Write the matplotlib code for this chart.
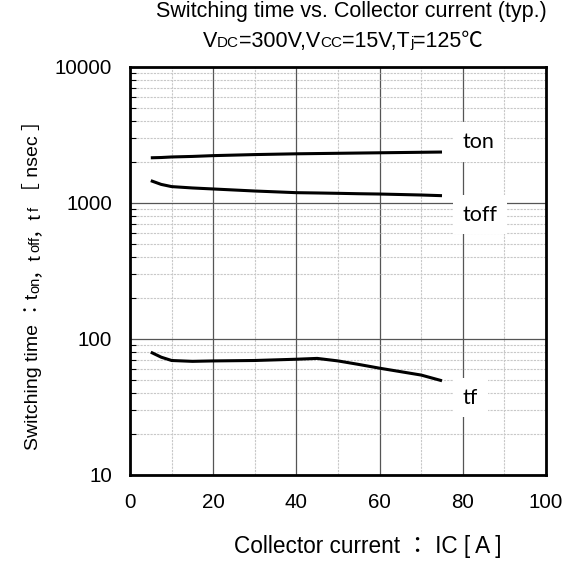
import matplotlib
matplotlib.use("Agg")
import matplotlib.pyplot as plt
from matplotlib.ticker import FixedLocator, LogLocator, NullFormatter, FixedFormatter

plt.rcParams['font.family'] = ['Liberation Sans', 'Noto Sans CJK JP', 'DejaVu Sans']

# data
ic = [5, 7.5, 10, 15, 20, 30, 40, 45, 50, 55, 60, 70, 75]
t_on = [2150, 2160, 2180, 2200, 2230, 2270, 2300, 2310, 2320, 2330, 2340, 2360, 2370]
t_off = [1460, 1370, 1320, 1290, 1268, 1225, 1191, 1185, 1178, 1170, 1164, 1145, 1132]
t_f = [80, 73.5, 69.5, 68.5, 69, 69.5, 71, 72, 69, 65, 61, 54.3, 49.3]

series_names = ["ton", "toff", "tf"]
label_pos = [(80, 2800), (80, 820), (80, 37)]

x_ticks = [0, 20, 40, 60, 80, 100]
y_ticks = [10, 100, 1000, 10000]
y_tick_labels = ["10", "100", "1000", "10000"]

title1 = "Switching time vs. Collector current (typ.)"
# (text, is_subscript)
title2_runs = [("V", 0), ("DC", 1), ("=300V,V", 0), ("CC", 1), ("=15V,T", 0), ("j", 1), ("=125℃", 0)]
xlabel = "Collector current ： IC [ A ]"
ylabel_runs = [("Switching time ：t", 0), ("on", 1), ("，t", 0), ("off", 1), ("，t", 0), ("f", 1),
               (" ［ nsec ］", 0)]

W, H = 575, 562
fig = plt.figure(figsize=(W / 100, H / 100), dpi=100)
ax = fig.add_axes([130 / W, 1 - 475 / H, 416 / W, 408 / H])

for ys in (t_on, t_off, t_f):
    ax.plot(ic, ys, color='black', lw=2.2, solid_capstyle='butt', zorder=3)

ax.set_yscale('log')
ax.set_xlim(0, 100)
ax.set_ylim(10, 10000)

ax.xaxis.set_major_locator(FixedLocator(x_ticks))
ax.xaxis.set_minor_locator(FixedLocator([10, 30, 50, 70, 90]))
ax.yaxis.set_major_locator(FixedLocator(y_ticks))
ax.yaxis.set_major_formatter(FixedFormatter(y_tick_labels))
ax.yaxis.set_minor_locator(LogLocator(base=10, subs=range(2, 10)))
ax.yaxis.set_minor_formatter(NullFormatter())

ax.grid(which='major', color='#555555', lw=0.9, ls='-')
ax.grid(which='minor', color='#c8c8c8', lw=0.8, ls=(0, (2, 1)))
ax.set_axisbelow(True)

ax.tick_params(which='both', direction='in', length=0, labelsize=14.8, pad=13, colors='black')
ax.tick_params(axis='y', which='minor', length=4, width=0.8)
for s in ax.spines.values():
    s.set_linewidth(2)
    s.set_color('black')

for name, (x, y) in zip(series_names, label_pos):
    ax.text(x, y, name, fontsize=15.5, family=['Lato', 'DejaVu Sans'], va='center', ha='left',
            bbox=dict(boxstyle='square,pad=0.45', fc='white', ec='none'), zorder=4)

renderer = fig.canvas.get_renderer()


def draw_runs(runs, cx, cy, size, sub_size, rotation=0, sub_shift=0.0):
    widths = []
    for s, sub in runs:
        t = fig.text(0, 0, s, fontsize=sub_size if sub else size)
        widths.append(t.get_window_extent(renderer).width)
        t.remove()
    total = sum(widths)
    pos = -total / 2
    for (s, sub), w in zip(runs, widths):
        fs = sub_size if sub else size
        shift = sub_shift if sub else 0
        if rotation == 0:
            fig.text((cx + pos) / W, (cy - shift) / H, s, fontsize=fs, ha='left', va='baseline')
        else:
            fig.text((cx + shift) / W, (cy + pos) / H, s, fontsize=fs, ha='left', va='baseline',
                     rotation=90, rotation_mode='anchor')
        pos += w


fig.text(351 / W, 1 - 17 / H, title1, ha='center', va='baseline', fontsize=15.5)
draw_runs(title2_runs, 343, H - 47, 15.5, 11)
fig.text(368 / W, 1 - 553 / H, xlabel, ha='center', va='baseline', fontsize=16.3)
draw_runs(ylabel_runs, 38, H - 280, 14, 10.5, rotation=90, sub_shift=1)

fig.savefig('out.png', dpi=100)
